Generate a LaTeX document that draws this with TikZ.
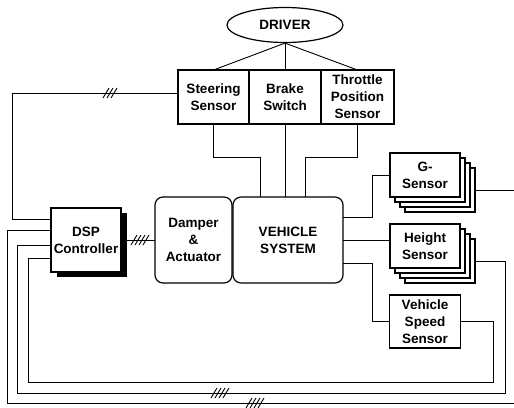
\documentclass[tikz,border=0pt]{standalone}
\usepackage{fontspec}
\setmainfont{Liberation Sans}
\usetikzlibrary{positioning,shapes.geometric,shadows}

\begin{document}
\begin{tikzpicture}[
    x=1pt, y=-1pt,
    font=\fontsize{13.5}{17}\selectfont\bfseries,
    box/.style={draw, line width=1.2pt, align=center, inner sep=1pt, outer sep=0pt},
    unit/.style={box, rounded corners=8pt, minimum height=86pt},
    sheet/.style={copy shadow={shadow xshift=#1, shadow yshift=-#1, draw=black, fill=white, line width=1.2pt}},
    stack/.style={box, fill=white, sheet=15pt, sheet=10pt, sheet=5pt},
    wire/.style={line width=0.9pt},
    pics/bus/.style={code={\foreach \k in {1,...,#1}
        \draw[wire] ({4*\k-2*#1-5},5) -- ({4*\k-2*#1+1},-5);}}
]
\useasboundingbox (0,0) rectangle (514,407);

% driver and driver inputs
\node[ellipse, draw, line width=1.2pt, minimum width=116pt, minimum height=35pt, inner sep=0pt] (driver) at (285,25) {DRIVER};
\node[box, minimum width=71pt, minimum height=54pt] (steer) at (213.5,97) {Steering\\Sensor};
\node[box, minimum width=72pt, minimum height=54pt, right=0pt of steer] (brake) {Brake\\Switch};
\node[box, minimum width=73pt, minimum height=54pt, right=0pt of brake] (throttle) {Throttle\\Position\\Sensor};

% controller, actuator and vehicle
\node[box, fill=white, minimum width=70pt, minimum height=64pt,
      drop shadow={shadow xshift=6pt, shadow yshift=-5pt, fill=black, opacity=1}] (dsp) at (86,240) {DSP\\Controller};
\node[unit, minimum width=77pt] (damper) at (193.5,240) {Damper\\\&\\Actuator};
\node[unit, minimum width=110pt, right=1pt of damper] (vehicle) {VEHICLE\\SYSTEM};

% sensors
\node[stack, minimum width=70pt, minimum height=44pt] (gsens) at (425,175) {G-\\Sensor};
\node[stack, minimum width=70pt, minimum height=44pt] (hsens) at (425,246) {Height\\Sensor};
\node[box, minimum width=71pt, minimum height=53pt] (speed) at (425,321.5) {Vehicle\\Speed\\Sensor};

% driver to inputs
\draw[wire] (driver.south) -- (steer.north);
\draw[wire] (driver.south) -- (brake.north);
\draw[wire] (driver.south) -- (throttle.north);

% inputs to vehicle
\draw[wire] (steer.south) -- ++(0,33) -| ([xshift=-28pt]vehicle.north);
\draw[wire] (brake.south) -- (brake.south |- vehicle.north);
\draw[wire] (throttle.south) -- ++(0,33) -| ([xshift=17pt]vehicle.north);

% vehicle to sensors
\draw[wire] ([shift={(0,-23)}]vehicle.east) -- ++(29,0) |- (gsens.west);
\draw[wire] (vehicle.east) -- (vehicle.east -| hsens.west);
\draw[wire] ([shift={(0,23)}]vehicle.east) -- ++(29,0) |- (speed.west);

% feedback to controller
\draw[wire] ([shift={(0,-4)}]steer.west) -| (12,219) -- ([shift={(0,-21)}]dsp.west);
\draw[wire] ([shift={(15,15)}]gsens.east) -- (514,190);
\draw[wire] ([shift={(0,-10)}]dsp.west) -| (7,403) -- (514,403);
\draw[wire] ([shift={(15,15)}]hsens.east) -| (505,393) -| (17,245) -- ([shift={(0,5)}]dsp.west);
\draw[wire] (speed.east) -| (493,382) -| (28,258) -- ([shift={(0,18)}]dsp.west);

% controller to actuator
\draw[wire] (dsp.east) -- (damper.west);

% bus marks
\pic at (110,93) {bus=3};
\pic at (140,240) {bus=4};
\pic at (220,393) {bus=4};
\pic at (255,403) {bus=4};
\end{tikzpicture}
\end{document}
